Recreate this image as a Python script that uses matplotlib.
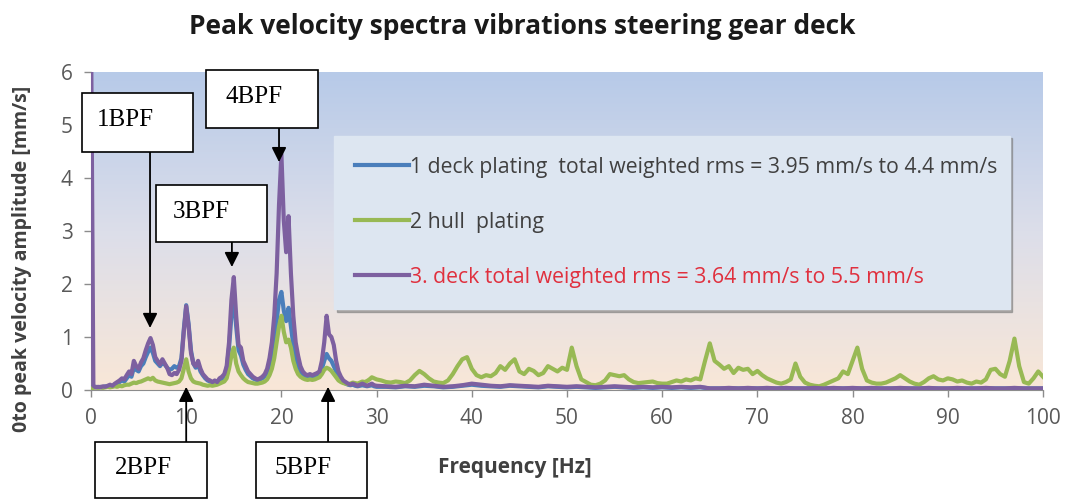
import matplotlib
matplotlib.use("Agg")
import matplotlib.pyplot as plt
import numpy as np
from matplotlib.colors import LinearSegmentedColormap
from matplotlib.patches import Rectangle
from matplotlib.lines import Line2D

# frequency grids [Hz]
freq_low = np.arange(0, 30.01, 0.25)      # 0 .. 30 Hz, fine
freq_tail = np.arange(30.5, 100.01, 0.5)  # hull plating tail
freq_tail_deck = np.arange(31, 100.01, 1.0)

# 1 deck plating, 0..30 Hz (one row per Hz)
deck_plating_low = [
    0.05, 0.05, 0.06, 0.05,
    0.06, 0.05, 0.07, 0.06,
    0.08, 0.07, 0.10, 0.12,
    0.15, 0.18, 0.16, 0.22,
    0.28, 0.25, 0.42, 0.38,
    0.35, 0.45, 0.50, 0.62,
    0.72, 0.80, 0.70, 0.55,
    0.50, 0.45, 0.52, 0.48,
    0.42, 0.38, 0.40, 0.45,
    0.42, 0.45, 0.60, 1.15,
    1.60, 1.25, 0.75, 0.50,
    0.42, 0.48, 0.35, 0.28,
    0.22, 0.18, 0.16, 0.14,
    0.15, 0.14, 0.18, 0.20,
    0.25, 0.40, 0.80, 1.40,
    1.75, 1.20, 0.75, 0.65,
    0.48, 0.38, 0.30, 0.26,
    0.22, 0.20, 0.18, 0.20,
    0.22, 0.26, 0.34, 0.48,
    0.70, 0.95, 1.30, 1.70,
    1.85, 1.50, 1.30, 1.55,
    1.20, 0.85, 0.60, 0.45,
    0.35, 0.28, 0.25, 0.24,
    0.25, 0.24, 0.26, 0.28,
    0.30, 0.40, 0.55, 0.68,
    0.60, 0.55, 0.45, 0.35,
    0.25, 0.20, 0.15, 0.12,
    0.10, 0.09, 0.10, 0.08,
    0.07, 0.08, 0.09, 0.08,
    0.07, 0.08, 0.09, 0.07,
    0.06,
]
deck_plating_tail = [
    0.06, 0.05, 0.07, 0.06, 0.08, 0.07, 0.05, 0.06, 0.08, 0.10,
    0.08, 0.07, 0.06, 0.08, 0.07, 0.06, 0.05, 0.07, 0.06, 0.05,
    0.06, 0.05, 0.04, 0.05, 0.06, 0.05, 0.04, 0.05, 0.04, 0.05,
    0.04, 0.05, 0.04, 0.05, 0.03, 0.03, 0.03, 0.03, 0.03, 0.03,
    0.03, 0.03, 0.03, 0.03, 0.03, 0.03, 0.03, 0.03, 0.03, 0.03,
    0.03, 0.03, 0.03, 0.03, 0.03, 0.03, 0.03, 0.03, 0.03, 0.03,
    0.03, 0.03, 0.03, 0.03, 0.03, 0.03, 0.03, 0.03, 0.03, 0.03,
]

# 2 hull plating
hull_low = [
    0.04, 0.04, 0.05, 0.04,
    0.05, 0.04, 0.05, 0.06,
    0.05, 0.06, 0.07, 0.06,
    0.08, 0.07, 0.09, 0.10,
    0.10, 0.12, 0.14, 0.13,
    0.15, 0.16, 0.18, 0.20,
    0.22, 0.20, 0.23, 0.18,
    0.16, 0.15, 0.14, 0.13,
    0.12, 0.11, 0.12, 0.13,
    0.14, 0.16, 0.22, 0.40,
    0.58, 0.35, 0.22, 0.16,
    0.14, 0.13, 0.12, 0.10,
    0.09, 0.08, 0.09, 0.08,
    0.09, 0.10, 0.12, 0.14,
    0.16, 0.22, 0.40, 0.65,
    0.80, 0.50, 0.35, 0.28,
    0.22, 0.18, 0.15, 0.14,
    0.13, 0.12, 0.12, 0.13,
    0.14, 0.16, 0.20, 0.28,
    0.40, 0.60, 0.90, 1.20,
    1.40, 1.10, 0.90, 0.95,
    0.80, 0.55, 0.40, 0.30,
    0.25, 0.22, 0.20, 0.19,
    0.20, 0.19, 0.20, 0.22,
    0.24, 0.30, 0.38, 0.42,
    0.40, 0.36, 0.30, 0.24,
    0.18, 0.15, 0.13, 0.12,
    0.11, 0.12, 0.14, 0.13,
    0.12, 0.14, 0.16, 0.15,
    0.17, 0.20, 0.24, 0.22,
    0.20,
]
hull_tail = [
    0.18, 0.15, 0.14, 0.16, 0.15, 0.13, 0.18, 0.28, 0.36, 0.30,
    0.22, 0.16, 0.14, 0.13, 0.18, 0.30, 0.45, 0.58, 0.62, 0.40,
    0.28, 0.24, 0.28, 0.26, 0.32, 0.45, 0.38, 0.50, 0.58, 0.35,
    0.30, 0.40, 0.36, 0.28, 0.32, 0.45, 0.40, 0.35, 0.42, 0.38,
    0.80, 0.45, 0.20, 0.15, 0.10, 0.09, 0.12, 0.18, 0.30, 0.28,
    0.26, 0.28, 0.20, 0.15, 0.13, 0.14, 0.15, 0.16, 0.13, 0.12,
    0.12, 0.15, 0.18, 0.16, 0.20, 0.18, 0.22, 0.20, 0.55, 0.88,
    0.55, 0.48, 0.40, 0.45, 0.32, 0.42, 0.38, 0.40, 0.30, 0.36,
    0.28, 0.22, 0.18, 0.14, 0.12, 0.15, 0.20, 0.50, 0.25, 0.14,
    0.10, 0.08, 0.07, 0.10, 0.14, 0.18, 0.22, 0.35, 0.30, 0.55,
    0.80, 0.40, 0.18, 0.14, 0.12, 0.12, 0.14, 0.18, 0.22, 0.28,
    0.22, 0.16, 0.12, 0.10, 0.15, 0.22, 0.26, 0.20, 0.18, 0.22,
    0.20, 0.16, 0.18, 0.14, 0.12, 0.16, 0.14, 0.20, 0.38, 0.40,
    0.30, 0.25, 0.55, 0.97, 0.45, 0.15, 0.12, 0.22, 0.35, 0.25,
]

# 3. deck (first point is the DC value, off the scale)
deck_low = [
    7.00, 0.08, 0.05, 0.06,
    0.05, 0.07, 0.06, 0.08,
    0.10, 0.08, 0.12, 0.15,
    0.18, 0.22, 0.20, 0.28,
    0.35, 0.30, 0.55, 0.45,
    0.40, 0.52, 0.60, 0.75,
    0.88, 0.98, 0.85, 0.62,
    0.55, 0.48, 0.58, 0.50,
    0.42, 0.30, 0.28, 0.32,
    0.30, 0.38, 0.55, 1.10,
    1.58, 1.20, 0.70, 0.50,
    0.45, 0.55, 0.40, 0.30,
    0.25, 0.20, 0.18, 0.15,
    0.18, 0.15, 0.22, 0.25,
    0.30, 0.45, 0.90, 1.70,
    2.13, 1.40, 0.85, 0.80,
    0.55, 0.45, 0.35, 0.30,
    0.25, 0.22, 0.20, 0.22,
    0.25, 0.30, 0.40, 0.60,
    0.90, 1.40, 2.20, 3.50,
    4.45, 3.20, 2.60, 3.28,
    2.20, 1.40, 0.90, 0.65,
    0.45, 0.35, 0.30, 0.28,
    0.30, 0.28, 0.30, 0.32,
    0.35, 0.55, 0.90, 1.40,
    1.05, 1.00, 0.85, 0.55,
    0.35, 0.25, 0.18, 0.15,
    0.12, 0.10, 0.12, 0.10,
    0.08, 0.10, 0.12, 0.10,
    0.08, 0.10, 0.12, 0.09,
    0.08,
]
deck_tail = [
    0.07, 0.06, 0.08, 0.07, 0.10, 0.08, 0.06, 0.07, 0.09, 0.12,
    0.10, 0.08, 0.07, 0.09, 0.08, 0.07, 0.06, 0.08, 0.07, 0.06,
    0.07, 0.06, 0.05, 0.06, 0.07, 0.06, 0.05, 0.06, 0.05, 0.06,
    0.05, 0.06, 0.05, 0.06, 0.03, 0.03, 0.04, 0.03, 0.04, 0.03,
    0.04, 0.03, 0.04, 0.03, 0.03, 0.04, 0.03, 0.04, 0.03, 0.04,
    0.03, 0.04, 0.03, 0.03, 0.04, 0.03, 0.03, 0.04, 0.03, 0.03,
    0.04, 0.03, 0.03, 0.04, 0.03, 0.03, 0.04, 0.03, 0.03, 0.03,
]

labels = [
    "1 deck plating  total weighted rms = 3.95 mm/s to 4.4 mm/s",
    "2 hull  plating",
    "3. deck total weighted rms = 3.64 mm/s to 5.5 mm/s",
]
colors = ["#4a7ebb", "#98b954", "#7d60a0"]

# BPF markers: name, target (Hz, mm/s)
bpf_names = ["1BPF", "2BPF", "3BPF", "4BPF", "5BPF"]
bpf_freq = [6.2, 10.0, 14.8, 19.75, 24.9]
bpf_amp = [1.17, 0.06, 2.32, 4.3, 0.06]
# label box in pixels (left, top, right, bottom) and text anchor
bpf_box = [(82, 93, 193, 152), (95, 442, 207, 498), (156, 185, 267, 242),
           (206, 70, 318, 128), (256, 442, 367, 498)]
bpf_text = [(97, 120), (115, 468), (173, 212), (225, 97), (275, 468)]

W, H = 1067, 500
fig = plt.figure(figsize=(W / 100, H / 100), dpi=100)
ax = fig.add_axes([91 / W, 1 - 390 / H, (1043 - 91) / W, (390 - 72) / H])

sans = ["Open Sans", "DejaVu Sans"]
serif = ["Liberation Serif", "DejaVu Serif"]

# plot-area gradient
bg = LinearSegmentedColormap.from_list("bg", ["#f9e7d7", "#dcdeea", "#b7cae8"])
grad = np.linspace(0, 1, 256).reshape(-1, 1)
ax.imshow(grad, cmap=bg, origin="lower", extent=[0, 100, 0, 6],
          aspect="auto", zorder=0)

lw = 3.0
ax.plot(np.concatenate([freq_low, freq_tail_deck]),
        deck_plating_low + deck_plating_tail, color=colors[0], lw=lw,
        zorder=3, solid_joinstyle="round")
ax.plot(np.concatenate([freq_low, freq_tail]), hull_low + hull_tail,
        color=colors[1], lw=lw, zorder=4, solid_joinstyle="round")
ax.plot(np.concatenate([freq_low, freq_tail_deck]), deck_low + deck_tail,
        color=colors[2], lw=lw, zorder=5, solid_joinstyle="round")

ax.set_xlim(0, 100)
ax.set_ylim(0, 6)
ax.set_xticks(np.arange(0, 101, 10))
ax.set_yticks(np.arange(0, 7, 1))
for s in ["top", "right"]:
    ax.spines[s].set_visible(False)
for s in ["left", "bottom"]:
    ax.spines[s].set_color("#8c8c8c")
ax.tick_params(colors="#8c8c8c", labelcolor="#595959", length=5, width=1,
               labelsize=15, pad=8)
for lab in ax.get_xticklabels() + ax.get_yticklabels():
    lab.set_family(sans)

handles = [Line2D([], [], color=c, lw=lw) for c in colors]
leg = ax.legend(handles, labels, loc="upper left",
                bbox_to_anchor=(0.255, 0.80, 0.71, 0.0), mode="expand",
                borderaxespad=0, prop={"family": sans, "size": 15.3},
                labelspacing=1.6, borderpad=1.0, handlelength=2.55,
                handletextpad=0.05, frameon=True, fancybox=False,
                shadow={"color": "#7f7f7f", "alpha": 0.6})
leg.get_frame().set_facecolor("#dde6f1")
leg.get_frame().set_edgecolor("#dde6f1")
leg.get_frame().set_alpha(1)
leg.set_zorder(8)
for t, c in zip(leg.get_texts(), ["#404040", "#404040", "#e0303e"]):
    t.set_color(c)

fig.text(522 / W, 1 - 26 / H, "Peak velocity spectra vibrations steering gear deck",
         ha="center", va="center", fontsize=19, fontweight="bold",
         family=sans, color="#1a1a1a")
fig.text(515 / W, 1 - 467 / H, "Frequency [Hz]", ha="center", va="center",
         fontsize=15, fontweight="bold", family=sans, color="#404040")
fig.text(22 / W, 1 - 259 / H, "0to peak velocity amplitude [mm/s]",
         ha="center", va="center", rotation=90, fontsize=14,
         fontweight="bold", family=sans, color="#404040")

for name, f, a, box, tp in zip(bpf_names, bpf_freq, bpf_amp, bpf_box, bpf_text):
    x0, y0, x1, y1 = box
    fig.add_artist(Rectangle((x0 / W, 1 - y1 / H), (x1 - x0) / W, (y1 - y0) / H,
                             transform=fig.transFigure, fc="white", ec="black",
                             lw=1.2, zorder=10))
    fig.text(tp[0] / W, 1 - tp[1] / H, name, ha="left", va="center",
             fontsize=18, family=serif, color="black", zorder=11)
    # arrow from the box edge toward the peak
    ax_px = ax.transData.transform((f, 0))[0]
    start_y = y1 if y0 < 300 else y0
    ax.annotate("", xy=(f, a), xycoords="data",
                xytext=(ax_px / W, 1 - start_y / H), textcoords="figure fraction",
                arrowprops=dict(arrowstyle="-|>", color="black", lw=1.3,
                                mutation_scale=22, shrinkA=0, shrinkB=0),
                annotation_clip=False, zorder=12)

fig.savefig("out.png", dpi=100)
